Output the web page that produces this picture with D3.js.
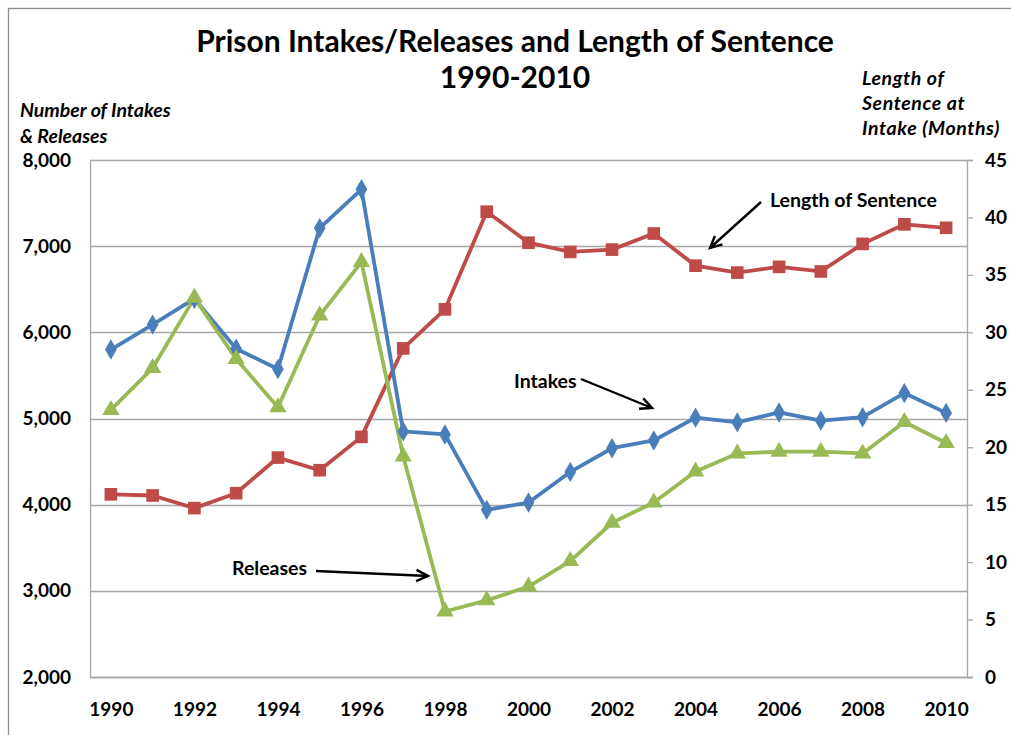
<!DOCTYPE html>
<html>
<head>
<meta charset="utf-8">
<script src="https://cdn.jsdelivr.net/npm/d3@7"></script>
<style>
  html, body { margin: 0; padding: 0; background: #fff; }
  svg { display: block; }
  text { font-family: Lato, "Open Sans", sans-serif; fill: #000; }
</style>
</head>
<body>
<svg id="chart" width="1011" height="735"></svg>
<script>
const years = [1990,1991,1992,1993,1994,1995,1996,1997,1998,1999,2000,2001,2002,2003,2004,2005,2006,2007,2008,2009,2010];
const intakes = [5800,6090,6390,5810,5575,7210,7660,4850,4815,3940,4025,4380,4655,4745,5010,4955,5070,4975,5015,5295,5065];
const releases = [5100,5585,6400,5690,5130,6195,6815,4560,2760,2890,3050,3345,3790,4025,4385,4595,4615,4615,4595,4960,4715];
const sentence = [15.9,15.8,14.7,16.0,19.1,18.0,20.9,28.6,32.0,40.5,37.8,37.0,37.2,38.6,35.8,35.2,35.7,35.3,37.7,39.4,39.1];
const leftTicks = [2000,3000,4000,5000,6000,7000,8000];
const rightTicks = [0,5,10,15,20,25,30,35,40,45];
const xTickYears = [1990,1992,1994,1996,1998,2000,2002,2004,2006,2008,2010];

const svg = d3.select("#chart");
const L = 90, R = 967, T = 160, B = 677;

// outer frame
svg.append("rect").attr("x",8.5).attr("y",8.5).attr("width",1100).attr("height",1100)
  .attr("fill","none").attr("stroke","#8c8c8c").attr("stroke-width",1.3);

const x = d3.scalePoint().domain(years).range([L,R]).padding(0.5);
const yL = d3.scaleLinear().domain([2000,8000]).range([B,T]);
const yR = d3.scaleLinear().domain([0,45]).range([B,T]);

// gridlines
svg.append("g").selectAll("line").data(leftTicks).join("line")
  .attr("x1",L).attr("x2",R).attr("y1",d=>Math.round(yL(d))+0.5).attr("y2",d=>Math.round(yL(d))+0.5)
  .attr("stroke","#a6a6a6").attr("stroke-width",1.3);

const tickFont = sel => sel.attr("font-size",19).attr("font-weight","bold").attr("font-family","Lato, sans-serif");

// left axis
const gL = svg.append("g").attr("transform",`translate(${L},0)`)
  .call(d3.axisLeft(yL).tickValues(leftTicks).tickSize(0).tickPadding(19).tickFormat(d3.format(",")));
gL.select(".domain").attr("stroke","#a6a6a6").attr("stroke-width",1.3);
gL.selectAll("text").call(tickFont);

// right axis
const gR = svg.append("g").attr("transform",`translate(${R},0)`)
  .call(d3.axisRight(yR).tickValues(rightTicks).tickSize(6).tickPadding(12));
gR.select(".domain").attr("stroke","#a6a6a6").attr("stroke-width",1.3);
gR.selectAll(".tick line").attr("stroke","#a6a6a6").attr("stroke-width",1.3);
gR.selectAll("text").call(tickFont);

// bottom axis
const gB = svg.append("g").attr("transform",`translate(0,${B})`)
  .call(d3.axisBottom(x).tickValues(xTickYears).tickSize(0).tickPadding(26));
gB.select(".domain").attr("stroke","#a6a6a6").attr("stroke-width",1.3).attr("d",`M${L},0.5H${R+6}`);
gB.selectAll("text").call(tickFont);

// series
const blue = "#4a7ebb", red = "#be4b48", green = "#98b954";
function drawLine(vals, y, color){
  svg.append("path").datum(vals)
    .attr("fill","none").attr("stroke",color).attr("stroke-width",3.8).attr("stroke-linejoin","round")
    .attr("d", d3.line().x((d,i)=>x(years[i])).y(d=>y(d)));
}
drawLine(sentence, yR, red);
drawLine(intakes, yL, blue);
drawLine(releases, yL, green);

svg.append("g").selectAll("path").data(sentence).join("path")
  .attr("d", d3.symbol(d3.symbolSquare, 160)())
  .attr("transform",(d,i)=>`translate(${x(years[i])},${yR(d)})`).attr("fill",red);
svg.append("g").selectAll("path").data(intakes).join("path")
  .attr("d", d3.symbol(d3.symbolDiamond, 120)())
  .attr("transform",(d,i)=>`translate(${x(years[i])},${yL(d)})`).attr("fill",blue);
svg.append("g").selectAll("path").data(releases).join("path")
  .attr("d", d3.symbol(d3.symbolTriangle, 130)())
  .attr("transform",(d,i)=>`translate(${x(years[i])},${yL(d)})`).attr("fill",green);

// titles
svg.append("text").attr("x",515).attr("y",52).attr("text-anchor","middle")
  .attr("font-size",30).attr("font-weight","bold").text("Prison Intakes/Releases and Length of Sentence");
svg.append("text").attr("x",515).attr("y",88).attr("text-anchor","middle")
  .attr("font-size",30).attr("font-weight","bold").text("1990-2010");

const la = svg.append("text").attr("font-size",19.5).attr("font-weight","bold").attr("font-style","italic");
la.append("tspan").attr("x",20).attr("y",117).text("Number of Intakes");
la.append("tspan").attr("x",20).attr("y",143).text("& Releases");

const ra = svg.append("text").attr("font-size",19.5).attr("font-weight","bold").attr("font-style","italic").attr("letter-spacing",0.6);
ra.append("tspan").attr("x",862).attr("y",85).text("Length of");
ra.append("tspan").attr("x",862).attr("y",110).text("Sentence at");
ra.append("tspan").attr("x",862).attr("y",135).text("Intake (Months)");

// annotations
function arrow(x1,y1,x2,y2){
  svg.append("line").attr("x1",x1).attr("y1",y1).attr("x2",x2).attr("y2",y2)
    .attr("stroke","#000").attr("stroke-width",2.4);
  const a = Math.atan2(y2-y1,x2-x1), len = 13, sp = 0.45;
  svg.append("path")
    .attr("d",`M${x2-len*Math.cos(a-sp)},${y2-len*Math.sin(a-sp)}L${x2},${y2}L${x2-len*Math.cos(a+sp)},${y2-len*Math.sin(a+sp)}`)
    .attr("fill","none").attr("stroke","#000").attr("stroke-width",2.4);
}
const annFont = sel => sel.attr("font-size",19.5).attr("font-weight","bold");
svg.append("text").attr("x",770).attr("y",207).call(annFont).text("Length of Sentence");
arrow(761,202,710,248);
svg.append("text").attr("x",514).attr("y",388).call(annFont).text("Intakes");
arrow(581,379,652,408);
svg.append("text").attr("x",232).attr("y",575).call(annFont).text("Releases");
arrow(316,571,428,576);
</script>
</body>
</html>
